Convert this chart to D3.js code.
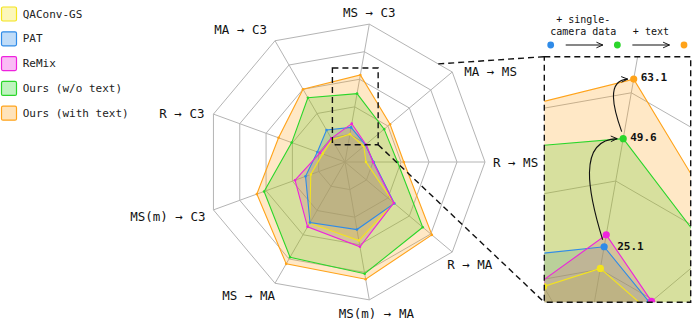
<!DOCTYPE html>
<html><head><meta charset="utf-8">
<script src="https://cdn.jsdelivr.net/npm/d3@7"></script>
<style>
body{margin:0;background:#fff}
svg{font-family:"DejaVu Sans Mono",monospace;display:block}
</style></head><body>
<svg id="chart" width="698" height="323"></svg>
<script>
// axes go counter-clockwise starting at 3 o'clock
var axes = ["R → MS", "MA → MS", "MS → C3", "MA → C3", "R → C3", "MS(m) → C3", "MS → MA", "MS(m) → MA", "R → MA"];
var seriesNames = ["QAConv-GS", "PAT", "ReMix", "Ours (w/o text)", "Ours (with text)"];
var qaconv     = [15, 17.5, 20.2, 18.3, 17, 26, 50.5, 57, 45.5];
var pat        = [20.5, 19, 25.1, 26.4, 21, 30, 50, 49, 46];
var remix      = [20, 19.5, 27.8, 19.5, 19, 38, 53.5, 61.5, 45.5];
var oursNoText = [37.5, 36.5, 49.6, 53, 40.5, 61.5, 78.5, 81, 72.5];
var oursText   = [42, 42, 63.1, 60, 50.5, 67, 84, 85, 81];
var ringTicks = [20, 40, 60, 80, 100];
var calloutAxis = "MS → C3";
var calloutSeries = [1, 3, 4];   // PAT -> + single-camera data -> + text
var stepLabels = [["+ single-", "camera data"], ["+ text"]];

var seriesValues = [qaconv, pat, remix, oursNoText, oursText];
var colors = ["#f4e41c", "#2f8be8", "#ee22dd", "#2bd62b", "#ffa31a"];

var svg = d3.select("#chart");
var cx = 345, cy = 162;
var rScale = d3.scaleLinear().domain([0, 100]).range([0, 140]);
var aScale = d3.scaleLinear().domain([0, axes.length]).range([0, 2 * Math.PI]);

function mainProj(i, v) {
  var a = aScale(i), r = rScale(v);
  return [cx + r * Math.cos(a), cy - r * Math.sin(a)];
}

// zoom window (source in main chart, target box on the right)
var src = {x: 332.4, y: 68, w: 45.75, h: 76.75};
var k = 3.2;
var box = {x: 544.3, y: 56.7, w: src.w * k, h: src.h * k};
function insetProj(i, v) {
  var p = mainProj(i, v);
  return [box.x + (p[0] - src.x) * k, box.y + (p[1] - src.y) * k];
}

var defs = svg.append("defs");
defs.append("clipPath").attr("id", "insetClip")
  .append("rect").attr("x", box.x).attr("y", box.y).attr("width", box.w).attr("height", box.h);
defs.append("marker").attr("id", "head")
  .attr("viewBox", "-1 -5 10 10").attr("refX", 8).attr("refY", 0)
  .attr("markerWidth", 8).attr("markerHeight", 8).attr("markerUnits", "userSpaceOnUse")
  .attr("orient", "auto")
  .append("path").attr("d", "M0,-3.5L8,0L0,3.5").attr("fill", "none").attr("stroke", "#111").attr("stroke-width", 1.2);

function drawRadar(g, proj, dotR) {
  var line = d3.line().curve(d3.curveLinearClosed);
  g.selectAll(".ring").data(ringTicks).enter().append("path")
    .attr("class", "ring")
    .attr("d", function(v) { return line(axes.map(function(a, i) { return proj(i, v); })); })
    .attr("fill", "none").attr("stroke", "#b4b4b4").attr("stroke-width", 1);
  g.selectAll(".spoke").data(axes).enter().append("line")
    .attr("class", "spoke")
    .attr("x1", function(d, i) { return proj(i, 0)[0]; })
    .attr("y1", function(d, i) { return proj(i, 0)[1]; })
    .attr("x2", function(d, i) { return proj(i, 100)[0]; })
    .attr("y2", function(d, i) { return proj(i, 100)[1]; })
    .attr("stroke", "#b4b4b4").attr("stroke-width", 1);

  var pts = seriesValues.map(function(vals) { return vals.map(function(v, i) { return proj(i, v); }); });
  pts.forEach(function(p, s) {
    g.append("path").attr("d", line(p))
      .attr("fill", colors[s]).attr("fill-opacity", 0.25).attr("stroke", "none");
  });
  pts.forEach(function(p, s) {
    g.append("path").attr("d", line(p))
      .attr("fill", "none").attr("stroke", colors[s]).attr("stroke-width", 1.1);
  });
  pts.forEach(function(p, s) {
    g.selectAll(".dot" + s).data(p).enter().append("circle")
      .attr("cx", function(q) { return q[0]; }).attr("cy", function(q) { return q[1]; })
      .attr("r", dotR).attr("fill", colors[s]);
  });
}

// main radar
var main = svg.append("g");
drawRadar(main, mainProj, 1.3);

// axis labels (small per-axis nudges to sit like the original)
var labelNudge = [[0, 0], [4, 7], [0, 0], [0, -1], [-1, 3], [0, 3], [8, 1.5], [7, 2], [-13, 5]];
main.selectAll(".axlab").data(axes).enter().append("text")
  .attr("class", "axlab")
  .each(function(d, i) {
    var a = aScale(i), c = Math.cos(a), s = Math.sin(a);
    var p = mainProj(i, 100);
    var anchor = Math.abs(c) > 0.3 ? (c > 0 ? "start" : "end") : "middle";
    var dx = Math.abs(c) > 0.3 ? (c > 0 ? 8 : -8) : 0;
    d3.select(this).attr("x", p[0] + dx + labelNudge[i][0]).attr("y", p[1] - s * 12 + labelNudge[i][1])
      .attr("text-anchor", anchor).attr("dominant-baseline", "central");
  })
  .attr("font-size", 12.5).attr("fill", "#111")
  .text(function(d) { return d; });

// dashed source window + connectors
var dash = {stroke: "#111", "stroke-width": 1.4, "stroke-dasharray": "6,4", fill: "none"};
function styleDash(sel) { for (var key in dash) sel.attr(key, dash[key]); return sel; }
styleDash(svg.append("rect").attr("x", src.x).attr("y", src.y).attr("width", src.w).attr("height", src.h));

// the upper connector only shows outside the radar frame
function exitFrame(p0, p1) {
  var frame = axes.map(function(a, i) { return mainProj(i, 100); });
  var best = 0;
  frame.forEach(function(q0, i) {
    var q1 = frame[(i + 1) % frame.length];
    var rx = p1[0] - p0[0], ry = p1[1] - p0[1], sx = q1[0] - q0[0], sy = q1[1] - q0[1];
    var den = rx * sy - ry * sx;
    if (Math.abs(den) < 1e-9) return;
    var t = ((q0[0] - p0[0]) * sy - (q0[1] - p0[1]) * sx) / den;
    var u = ((q0[0] - p0[0]) * ry - (q0[1] - p0[1]) * rx) / den;
    if (t >= 0 && t <= 1 && u >= 0 && u <= 1) best = Math.max(best, t);
  });
  return [p0[0] + (p1[0] - p0[0]) * best, p0[1] + (p1[1] - p0[1]) * best];
}
var up0 = exitFrame([src.x + src.w, src.y], [box.x, box.y]);
styleDash(svg.append("line").attr("x1", up0[0]).attr("y1", up0[1]).attr("x2", box.x).attr("y2", box.y));
styleDash(svg.append("line").attr("x1", src.x + src.w).attr("y1", src.y + src.h).attr("x2", box.x).attr("y2", box.y + box.h));

// inset
var inset = svg.append("g").attr("clip-path", "url(#insetClip)");
inset.append("rect").attr("x", box.x).attr("y", box.y).attr("width", box.w).attr("height", box.h).attr("fill", "#fff");
drawRadar(inset, insetProj, 3.6);
styleDash(svg.append("rect").attr("x", box.x).attr("y", box.y).attr("width", box.w).attr("height", box.h));

var ci = axes.indexOf(calloutAxis);
var cpts = calloutSeries.map(function(s) { return insetProj(ci, seriesValues[s][ci]); });
var ann = svg.append("g");
// value labels
ann.selectAll(".val").data(calloutSeries).enter().append("text")
  .attr("x", function(s, j) { return cpts[j][0] + (j === 0 ? 13 : 7); })
  .attr("y", function(s, j) { return cpts[j][1] - (j === 0 ? 0.5 : 1.5); })
  .attr("dominant-baseline", "central").attr("font-size", 11).attr("font-weight", "bold").attr("fill", "#111")
  .text(function(s) { return seriesValues[s][ci].toFixed(1); });
// curved arrows between callouts
for (var j = 0; j < cpts.length - 1; j++) {
  var a = cpts[j], b = cpts[j + 1];
  var x0 = a[0] - 1.5, y0 = a[1] - 7, x1 = b[0] - 6, y1 = b[1];
  var bend = j === 0 ? 20 : 12;
  ann.append("path")
    .attr("d", "M" + x0 + "," + y0 + " C" + (x0 - bend * 0.7) + "," + (y0 - (y0 - y1) * 0.45) + " " +
      (x0 - bend * 1.3) + "," + (y1 + 1) + " " + x1 + "," + y1)
    .attr("fill", "none").attr("stroke", "#111").attr("stroke-width", 1.1)
    .attr("marker-end", "url(#head)");
}

// step legend above the inset
var legY = 45;
var stepX = d3.scalePoint().domain(calloutSeries).range([box.x + 6.4, box.x + 139.7]);
ann.selectAll(".stepdot").data(calloutSeries).enter().append("circle")
  .attr("cx", function(s) { return stepX(s); }).attr("cy", legY).attr("r", 3.4)
  .attr("fill", function(s) { return colors[s]; });
calloutSeries.slice(1).forEach(function(s, j) {
  var xa = stepX(calloutSeries[j]) + 15, xb = stepX(s) - 14.5;
  ann.append("line").attr("x1", xa).attr("y1", legY).attr("x2", xb).attr("y2", legY)
    .attr("stroke", "#111").attr("stroke-width", 1.1).attr("marker-end", "url(#head)");
  var lines = stepLabels[j];
  lines.forEach(function(t, m) {
    ann.append("text").attr("x", (xa + xb) / 2 + (j === 0 ? -1 : 0))
      .attr("y", legY - 13.3 - (lines.length - 1 - m) * 12.7)
      .attr("text-anchor", "middle").attr("dominant-baseline", "central")
      .attr("font-size", 10).attr("fill", "#111").text(t);
  });
});

// legend
var leg = svg.append("g");
seriesNames.forEach(function(n, s) {
  var y = 14 + s * 24.8;
  leg.append("rect").attr("x", 1.5).attr("y", y - 7).attr("width", 15).attr("height", 14).attr("rx", 1.5)
    .attr("fill", colors[s]).attr("fill-opacity", 0.3).attr("stroke", colors[s]).attr("stroke-width", 1.2);
  leg.append("text").attr("x", 22.7).attr("y", y).attr("dominant-baseline", "central")
    .attr("font-size", 11).attr("fill", "#222").text(n);
});
</script>
</body></html>
